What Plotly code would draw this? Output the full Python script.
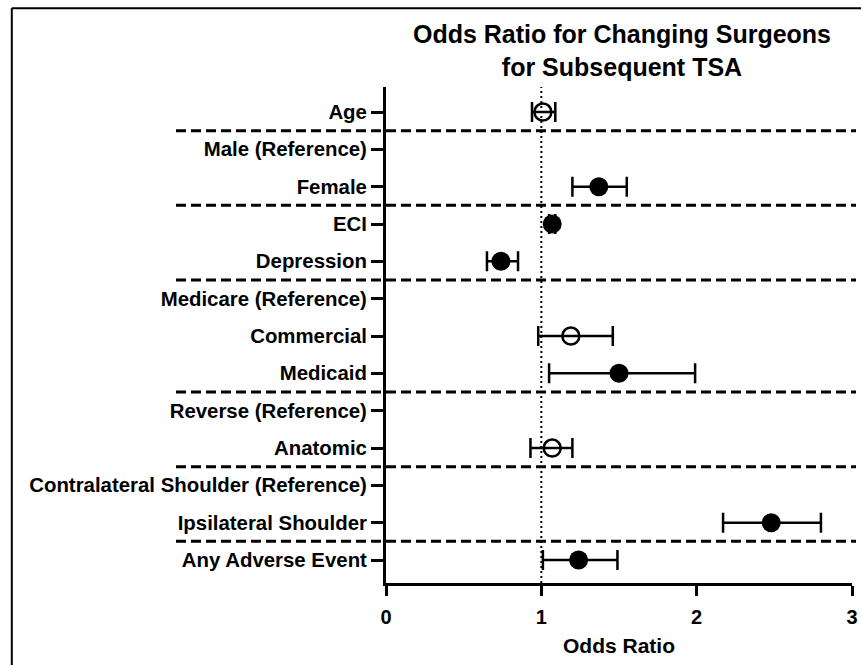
import plotly.graph_objects as go

categories = ["Age", "Male (Reference)", "Female", "ECI", "Depression",
              "Medicare (Reference)", "Commercial", "Medicaid",
              "Reverse (Reference)", "Anatomic",
              "Contralateral Shoulder (Reference)", "Ipsilateral Shoulder",
              "Any Adverse Event"]
odds_ratio = [1.01, None, 1.37, 1.07, 0.74, None, 1.19, 1.50, None, 1.07, None, 2.48, 1.24]
ci_lower = [0.94, None, 1.20, 1.05, 0.65, None, 0.98, 1.05, None, 0.93, None, 2.17, 1.01]
ci_upper = [1.09, None, 1.55, 1.09, 0.85, None, 1.46, 1.99, None, 1.20, None, 2.80, 1.49]
significant = [False, None, True, True, True, None, False, True, None, False, None, True, True]
group_sizes = [1, 2, 2, 3, 2, 2, 1]
x_ticks = [0, 1, 2, 3]

FONT = "Liberation Sans, Arial, Helvetica, sans-serif"

W, H = 861, 665
L, R, T, B = 386, 9, 87, 82
PW, PH = W - L - R, H - T - B

fig = go.Figure()

for sig in (True, False):
    xs, ys, lo, hi = [], [], [], []
    for i, (o, l, u, s) in enumerate(zip(odds_ratio, ci_lower, ci_upper, significant)):
        if o is None or s != sig:
            continue
        xs.append(o); ys.append(i); lo.append(o - l); hi.append(u - o)
    fig.add_trace(go.Scatter(
        x=xs, y=ys, mode="markers",
        marker=dict(symbol="circle" if sig else "circle-open",
                    size=19 if sig else 17, color="black",
                    line=dict(width=0 if sig else 2.5, color="black")),
        error_x=dict(type="data", array=hi, arrayminus=lo, symmetric=False,
                     color="black", thickness=2.5, width=10),
        showlegend=False, cliponaxis=False, hoverinfo="skip",
    ))

def px_to_paper_x(px):
    return (px - L) / PW

def px_to_paper_y(py):
    return (H - B - py) / PH

shapes = []
b = 0
for g in group_sizes[:-1]:
    b += g
    yv = b - 0.5
    shapes.append(dict(type="line", xref="paper", yref="y",
                       x0=px_to_paper_x(176), x1=px_to_paper_x(856),
                       y0=yv, y1=yv, line=dict(color="black", width=3, dash="10px,5px"),
                       layer="below"))
# reference line at OR = 1
shapes.append(dict(type="line", xref="x", yref="paper", x0=1, x1=1, y0=0, y1=1,
                   line=dict(color="black", width=2, dash="2px,3px"), layer="below"))
# frame border (left + top)
bx, by = px_to_paper_x(11.8), px_to_paper_y(8.2)
shapes.append(dict(type="line", xref="paper", yref="paper", x0=bx, x1=bx,
                   y0=px_to_paper_y(H + 5), y1=by, line=dict(color="black", width=2)))
shapes.append(dict(type="line", xref="paper", yref="paper", x0=bx, x1=px_to_paper_x(W + 5),
                   y0=by, y1=by, line=dict(color="black", width=2)))

fig.update_layout(
    width=W, height=H,
    margin=dict(l=L, r=R, t=T, b=B, autoexpand=False),
    plot_bgcolor="white", paper_bgcolor="white",
    font=dict(family=FONT, color="black", size=20),
    title=dict(text="<b>Odds Ratio for Changing Surgeons<br>for Subsequent TSA</b>",
               x=px_to_paper_x(622), xref="paper", xanchor="center",
               y=1 - 43 / H, yanchor="top", yref="container",
               font=dict(size=25, family=FONT, color="black")),
    shapes=shapes,
)
fig.update_xaxes(range=[0, 3], tickvals=x_ticks, ticktext=[str(t) for t in x_ticks],
                 automargin=False,
                 showgrid=False, zeroline=False, showline=True, linewidth=3, linecolor="black",
                 ticks="outside", ticklen=10, tickwidth=3, tickcolor="black",
                 ticklabelstandoff=4,
                 tickfont=dict(size=20, weight="bold", family=FONT),
                 title=dict(text="<b>Odds Ratio</b>", font=dict(size=21, family=FONT), standoff=12))
fig.update_yaxes(range=[12.616, -0.67], tickvals=list(range(len(categories))), ticktext=categories,
                 automargin=False,
                 showgrid=False, zeroline=False, showline=True, linewidth=3, linecolor="black",
                 ticks="outside", ticklen=12, tickwidth=3, tickcolor="black",
                 tickfont=dict(size=20.4, weight="bold", family=FONT))

fig.write_html("out.html", config={"displayModeBar": False},
               post_script="document.body.style.margin='0px';")
